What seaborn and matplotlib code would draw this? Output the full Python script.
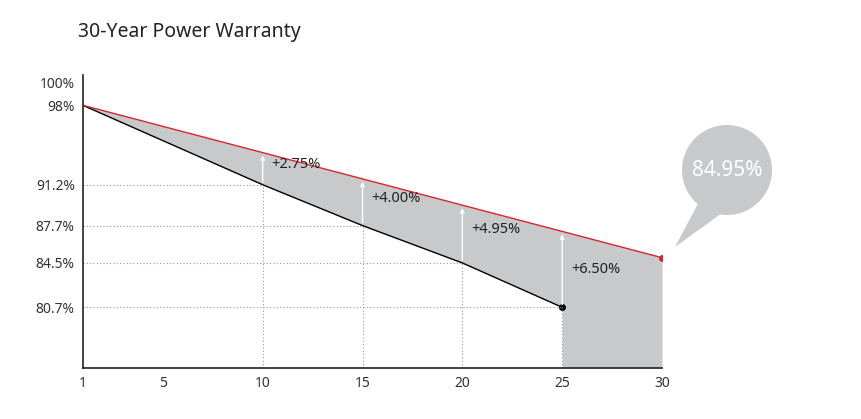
import matplotlib
matplotlib.use("Agg")
import matplotlib.pyplot as plt
import seaborn as sns
import numpy as np
from matplotlib.patches import Circle, Polygon

sns.set_style("white")
plt.rcParams['font.family'] = ['Noto Sans', 'DejaVu Sans']

years = [1, 10, 15, 20, 25]
guaranteed = [98.0, 91.2, 87.7, 84.5, 80.7]
warranty_years = [1, 10, 15, 20, 25, 30]
warranty = [98.0, 93.95, 91.7, 89.45, 87.2, 84.95]
gain_labels = ["+2.75%", "+4.00%", "+4.95%", "+6.50%"]
ytick_vals = [80.7, 84.5, 87.7, 91.2, 98, 100]
ytick_labels = ["80.7%", "84.5%", "87.7%", "91.2%", "98%", "100%"]
xticks = [1, 5, 10, 15, 20, 25, 30]

fig = plt.figure(figsize=(8.61, 4.19), dpi=100)
ax = fig.add_axes([83/861, 1-368/419, (662-83)/861, (368-75)/419])
ymin, ymax = 75.5, 100.6
ax.set_xlim(1, 30)
ax.set_ylim(ymin, ymax)

gray = "#c8c9cb"
# fill between lines up to 25
ax.fill_between(years, guaranteed, warranty[:5], color=gray, lw=0)
ax.fill_between(warranty_years[4:], [ymin]*2, warranty[4:], color=gray, lw=0)

sns.lineplot(x=years, y=guaranteed, ax=ax, color="black", lw=1)
sns.lineplot(x=warranty_years, y=warranty, ax=ax, color="#d9232b", lw=1)
ax.plot(25, 80.7, 'o', color='black', ms=4)
ax.plot(30, 84.95, 'o', color='#d9232b', ms=4)

for i, (x, g) in enumerate(zip(years[1:], guaranteed[1:])):
    ax.plot([1, x], [g, g], ls=(0, (1, 2)), color="#999999", lw=0.8)
    ax.plot([x, x], [ymin, g], ls=(0, (1, 2)), color="#999999", lw=0.8)
    w = warranty[i+1]
    ax.annotate("", xy=(x, w), xytext=(x, g),
                arrowprops=dict(arrowstyle="-|>", color="white", lw=1, mutation_scale=6))
    ax.text(x + 0.45, (g + w) / 2 + (0.35 if i < 3 else 0), gain_labels[i], fontsize=10.5, va="center", color="#222222")

ax.set_yticks(ytick_vals)
ax.set_yticklabels(ytick_labels, fontsize=10, color="#333333")
ax.set_xticks(xticks)
ax.set_xticklabels([str(t) for t in xticks], fontsize=10, color="#333333")
ax.tick_params(length=0, pad=6)
for s in ["top", "right"]:
    ax.spines[s].set_visible(False)
for s in ["left", "bottom"]:
    ax.spines[s].set_color("#222222")
    ax.spines[s].set_linewidth(1.2)

fig.text(78/861, 1-32/419, "30-Year Power Warranty", fontsize=14, va="center", color="#222222")

# callout bubble in figure pixel coords
bub = fig.add_axes([0, 0, 1, 1], facecolor="none")
bub.set_xlim(0, 861); bub.set_ylim(419, 0); bub.axis("off")
bub.add_patch(Polygon([[700, 200], [675, 247], [722, 213]], closed=True, color=gray, lw=0))
bub.add_patch(Circle((727, 170), 45, color=gray, lw=0))
bub.text(727, 170, "84.95%", ha="center", va="center", color="white", fontsize=15, fontweight="bold")

fig.savefig("out.png", dpi=100)
